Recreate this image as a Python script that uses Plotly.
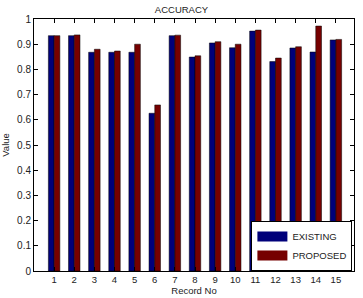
import plotly.graph_objects as go

records = [str(i) for i in range(1, 16)]
x_pos = list(range(1, 16))
existing = [0.934, 0.934, 0.868, 0.868, 0.868, 0.626, 0.934, 0.849, 0.905, 0.886, 0.952, 0.831, 0.885, 0.869, 0.917]
proposed = [0.934, 0.937, 0.880, 0.873, 0.900, 0.659, 0.936, 0.854, 0.910, 0.900, 0.956, 0.845, 0.890, 0.972, 0.919]
y_ticks = [0, 0.1, 0.2, 0.3, 0.4, 0.5, 0.6, 0.7, 0.8, 0.9, 1]
y_tick_text = ["0", "0.1", "0.2", "0.3", "0.4", "0.5", "0.6", "0.7", "0.8", "0.9", "1"]

BLUE = "#00007a"
RED = "#760000"
FONT = "Liberation Sans, Arial, sans-serif"
TXT = "#222222"

fig = go.Figure()
fig.add_trace(go.Bar(x=x_pos, y=existing, name="EXISTING", marker=dict(color=BLUE, line=dict(color="#000000", width=0.5)), showlegend=False))
fig.add_trace(go.Bar(x=x_pos, y=proposed, name="PROPOSED", marker=dict(color=RED, line=dict(color="#000000", width=0.5)), showlegend=False))
# legend entries (wide swatches like the original)
fig.add_trace(go.Scatter(x=[None], y=[None], mode="lines", name="EXISTING", line=dict(color=BLUE, width=10)))
fig.add_trace(go.Scatter(x=[None], y=[None], mode="lines", name="PROPOSED", line=dict(color=RED, width=10)))

fig.update_layout(
    width=363, height=298,
    margin=dict(l=34, r=9, t=19, b=27, autoexpand=False),
    paper_bgcolor="white", plot_bgcolor="white",
    font=dict(family=FONT, size=10, color=TXT),
    barmode="group", bargap=0.43, bargroupgap=0,
    title=dict(text="ACCURACY", x=0.5, xanchor="center", y=1 - 10 / 298, yanchor="middle",
               font=dict(family=FONT, size=9.5, color=TXT)),
    legend=dict(x=0.995, y=0.0, xanchor="right", yanchor="bottom", bgcolor="white",
                bordercolor="#000000", borderwidth=1, font=dict(family=FONT, size=9.5, color=TXT),
                tracegroupgap=0, itemwidth=30),
)
fig.update_xaxes(
    range=[0, 15.9], tickmode="array", tickvals=x_pos, ticktext=records,
    ticks="inside", ticklen=4, tickcolor="#000000", showline=True, linecolor="#000000", linewidth=1,
    mirror="ticks", showgrid=False, zeroline=False, automargin=False,
    title=dict(text="Record No", standoff=2, font=dict(family=FONT, size=9.5, color=TXT)),
    tickfont=dict(family=FONT, size=9.5, color=TXT),
)
fig.update_yaxes(
    range=[0, 1], tickmode="array", tickvals=y_ticks, ticktext=y_tick_text,
    ticks="inside", ticklen=4, tickcolor="#000000", showline=True, linecolor="#000000", linewidth=1,
    mirror="ticks", showgrid=False, zeroline=False, automargin=False,
    title=dict(text="Value", standoff=10, font=dict(family=FONT, size=9.5, color=TXT)),
    tickfont=dict(family=FONT, size=10, color=TXT),
)

fig.write_html("out.html", config={"displayModeBar": False},
               post_script="document.body.style.margin='0';")
